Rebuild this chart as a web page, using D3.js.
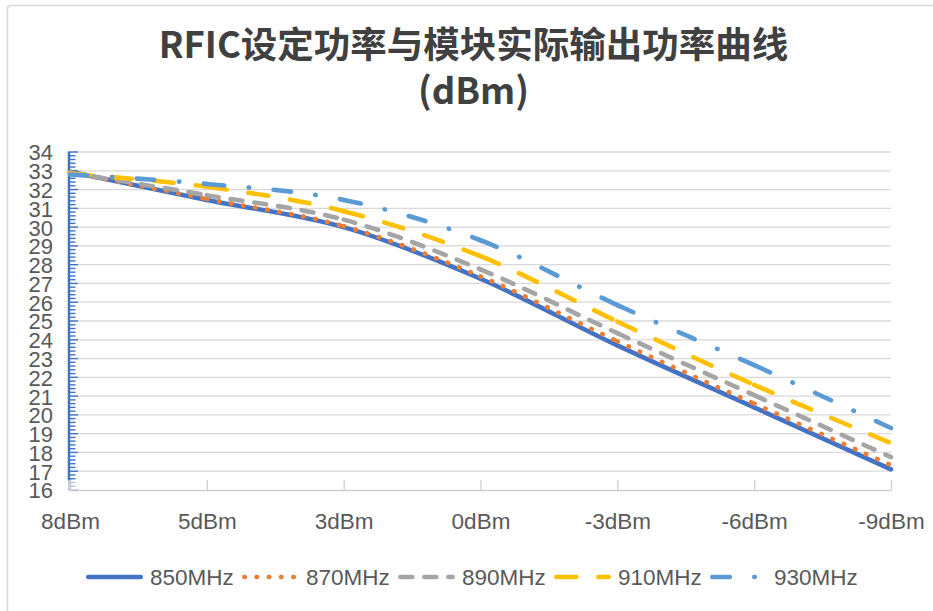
<!DOCTYPE html>
<html>
<head>
<meta charset="utf-8">
<script src="https://cdn.jsdelivr.net/npm/d3@7"></script>
<style>
  html, body { margin: 0; padding: 0; background: #fff; }
  svg { display: block; }
  text { font-family: "Liberation Sans", Arial, sans-serif; }
</style>
</head>
<body>
<svg id="chart" width="933" height="611"></svg>
<script>
// Setting power (x categories) and measured output power per frequency (dBm)
const categories = ["8dBm", "5dBm", "3dBm", "0dBm", "-3dBm", "-6dBm", "-9dBm"];
const seriesNames = ["850MHz", "870MHz", "890MHz", "910MHz", "930MHz"];
const values850 = [32.95, 31.45, 30.0, 27.25, 23.7, 20.4, 17.1];
const values870 = [32.92, 31.5, 30.05, 27.38, 23.92, 20.6, 17.32];
const values890 = [32.9, 31.7, 30.4, 27.75, 24.35, 21.05, 17.75];
const values910 = [32.85, 32.15, 30.85, 28.45, 24.97, 21.6, 18.5];
const values930 = [32.8, 32.3, 31.45, 29.3, 25.85, 22.65, 19.3];
const yTickValues = d3.range(16, 35, 1);
const titleLines = ["RFIC设定功率与模块实际输出功率曲线", "(dBm)"];

const seriesValues = [values850, values870, values890, values910, values930];

// line styles: colour and dash pattern per series
const styles = [
  { color: "#4472C4", dash: null },
  { color: "#ED7D31", dash: "0.5 11.75" },
  { color: "#A5A5A5", dash: "12 12" },
  { color: "#FFC000", dash: "20 22" },
  { color: "#5B9BD5", dash: "17.5 24.5 0.5 24.5" }
];
const lineWidth = 4.6;

const svg = d3.select("#chart");

// chart frame
svg.append("rect")
  .attr("x", 7.5).attr("y", 5.5)
  .attr("width", 940).attr("height", 620)
  .attr("rx", 3)
  .attr("fill", "#fff")
  .attr("stroke", "#D9D9D9")
  .attr("stroke-width", 1.5);

const x = d3.scalePoint().domain(categories).range([70, 891]);
const y = d3.scaleLinear().domain([16, 34]).range([490, 152]);

// title
const titleFont = "'Noto Sans CJK SC', sans-serif";
svg.append("text")
  .attr("x", 473.5).attr("y", 58)
  .attr("text-anchor", "middle")
  .style("font-family", titleFont)
  .attr("font-size", 36.5).attr("font-weight", 700)
  .attr("fill", "#404040")
  .text(titleLines[0]);
svg.append("text")
  .attr("x", 473.5).attr("y", 104)
  .attr("text-anchor", "middle")
  .style("font-family", titleFont)
  .attr("font-size", 36.5).attr("font-weight", 700)
  .attr("fill", "#404040")
  .text(titleLines[1]);

// horizontal gridlines
svg.append("g")
  .selectAll("line")
  .data(yTickValues.filter(v => v > 16))
  .join("line")
  .attr("x1", 70).attr("x2", 891)
  .attr("y1", d => y(d)).attr("y2", d => y(d))
  .attr("stroke", "#D9D9D9").attr("stroke-width", 1.3);

// x axis line and inside ticks
const xAxis = d3.axisBottom(x).tickSize(0).tickPadding(0);
const gx = svg.append("g").attr("transform", "translate(0,490)").call(xAxis);
gx.select(".domain").attr("stroke", "#D0D0D0").attr("stroke-width", 1.5);
gx.selectAll(".tick line").remove();
gx.selectAll(".tick").append("line")
  .attr("y1", 0).attr("y2", -10)
  .attr("stroke", "#D0D0D0").attr("stroke-width", 1.3);
gx.selectAll(".tick text")
  .attr("y", 31)
  .attr("dy", "0.36em")
  .attr("font-size", 22.5)
  .attr("fill", "#595959")
  .style("font-family", "'Liberation Sans', Arial, sans-serif");

// y axis with minor ticks
const minorTicks = d3.range(160, 341, 2).map(v => v / 10);
const gyMinor = svg.append("g");
gyMinor.selectAll("line")
  .data(minorTicks)
  .join("line")
  .attr("x1", 68).attr("x2", d => (Math.abs(d - Math.round(d)) < 1e-6 ? 78 : 75.5))
  .attr("y1", d => y(d)).attr("y2", d => y(d))
  .attr("stroke", d => d >= 16.5 ? "#4472C4" : "#B8C4D8")
  .attr("stroke-width", 1.4);
gyMinor.append("line")
  .attr("x1", 69).attr("x2", 69)
  .attr("y1", y(34)).attr("y2", y(16.5))
  .attr("stroke", "#4472C4").attr("stroke-width", 2.5);
gyMinor.append("line")
  .attr("x1", 69).attr("x2", 69)
  .attr("y1", y(16.5)).attr("y2", y(16))
  .attr("stroke", "#C8CCD4").attr("stroke-width", 2);

const yAxis = d3.axisLeft(y).tickValues(yTickValues).tickSize(0).tickPadding(0).tickFormat(d3.format("d"));
const gy = svg.append("g").attr("transform", "translate(53,0)").call(yAxis);
gy.select(".domain").remove();
gy.selectAll(".tick text")
  .attr("x", 0)
  .attr("dy", "0.36em")
  .attr("font-size", 22)
  .attr("fill", "#595959")
  .style("font-family", "'Liberation Sans', Arial, sans-serif");

// smoothed segment between point i and i+1 (cardinal spline, dash pattern restarts per segment)
function segmentPath(pts, i) {
  const n = pts.length;
  const p0 = pts[Math.max(i - 1, 0)];
  const p1 = pts[i];
  const p2 = pts[i + 1];
  const p3 = pts[Math.min(i + 2, n - 1)];
  const c1 = [p1[0] + (p2[0] - p0[0]) / 6, p1[1] + (p2[1] - p0[1]) / 6];
  const c2 = [p2[0] - (p3[0] - p1[0]) / 6, p2[1] - (p3[1] - p1[1]) / 6];
  const p = d3.path();
  p.moveTo(p1[0], p1[1]);
  p.bezierCurveTo(c1[0], c1[1], c2[0], c2[1], p2[0], p2[1]);
  return p.toString();
}

const plot = svg.append("g");
seriesValues.forEach((vals, si) => {
  const pts = vals.map((v, i) => [x(categories[i]), y(v)]);
  const segs = d3.range(pts.length - 1);
  plot.append("g")
    .selectAll("path")
    .data(segs)
    .join("path")
    .attr("d", i => segmentPath(pts, i))
    .attr("fill", "none")
    .attr("stroke", styles[si].color)
    .attr("stroke-width", lineWidth)
    .attr("stroke-linecap", "round")
    .attr("stroke-linejoin", "round")
    .attr("stroke-dasharray", styles[si].dash);
});

// legend
const legendY = 577;
const legendX0 = 86;
const legendStep = 156;
const legend = svg.append("g");
seriesNames.forEach((name, si) => {
  const gx0 = legendX0 + si * legendStep;
  legend.append("line")
    .attr("x1", gx0 + 2.3).attr("x2", gx0 + 57 - 2.3)
    .attr("y1", legendY).attr("y2", legendY)
    .attr("stroke", styles[si].color)
    .attr("stroke-width", lineWidth)
    .attr("stroke-linecap", "round")
    .attr("stroke-dasharray", styles[si].dash);
  legend.append("text")
    .attr("x", gx0 + 64).attr("y", legendY)
    .attr("dy", "0.36em")
    .attr("font-size", 22.5)
    .attr("fill", "#595959")
    .text(name);
});
</script>
</body>
</html>
